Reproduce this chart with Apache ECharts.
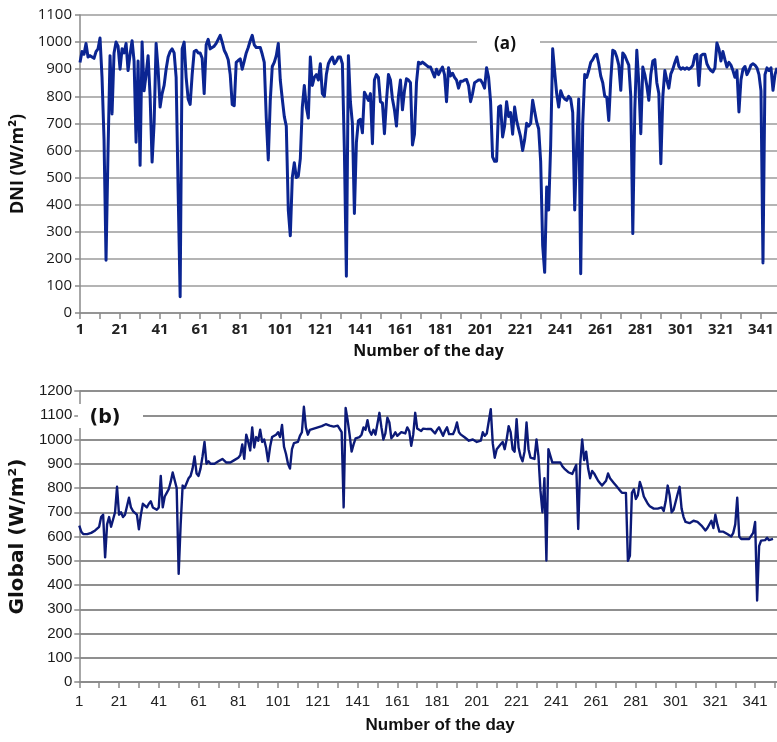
<!DOCTYPE html>
<html>
<head>
<meta charset="utf-8">
<script src="https://cdn.jsdelivr.net/npm/echarts@6/dist/echarts.min.js"></script>
<style>
  html, body { margin: 0; padding: 0; background: #fff; }
  #chart { width: 777px; height: 742px; }
</style>
</head>
<body>
<div id="chart"></div>
<script>
// (a) daily DNI, W/m2, day 1 .. 349
const dniValues = [
  925, 965, 955, 995, 945, 950, 945, 940, 965, 975,
  1015, 870, 640, 195, 600, 950, 735, 960, 1000, 985,
  900, 975, 960, 995, 895, 955, 1005, 930, 630, 930,
  545, 1000, 820, 880, 950, 800, 557, 700, 995, 900,
  760, 810, 840, 900, 945, 965, 975, 960, 870, 450,
  60, 975, 1000, 870, 790, 770, 880, 965, 970, 960,
  960, 940, 810, 990, 1010, 975, 980, 985, 995, 1010,
  1025, 1000, 970, 955, 935, 880, 770, 765, 925, 932,
  938, 900, 930, 960, 980, 1005, 1025, 990, 980, 980,
  980, 955, 925, 720, 565, 785, 910, 925, 950, 995,
  860, 790, 725, 690, 380, 285, 500, 555, 500, 505,
  570, 760, 840, 760, 720, 945, 840, 870, 880, 860,
  920, 810, 800, 880, 920, 935, 945, 920, 930, 945,
  945, 920, 600, 136, 950, 780, 700, 367, 630, 710,
  715, 665, 815, 800, 785, 810, 625, 860, 880, 870,
  780, 775, 662, 780, 880, 860, 790, 750, 690, 800,
  860, 750, 820, 865, 860, 850, 620, 660, 850, 926,
  920, 926, 920, 914, 908, 908, 890, 871, 900, 880,
  895, 908, 880, 780, 905, 875, 885, 870, 860, 830,
  855, 855, 860, 862, 840, 780, 810, 850, 855, 860,
  860, 848, 830, 905, 870, 780, 576, 560, 560, 760,
  765, 650, 690, 780, 725, 740, 660, 760, 710, 680,
  650, 600, 640, 700, 690, 700, 785, 745, 705, 680,
  560, 250, 150, 465, 380, 620, 975, 890, 810, 760,
  820, 800, 790, 785, 800, 790, 740, 380, 620, 790,
  145, 700, 880, 870, 895, 925, 935, 950, 955, 920,
  875, 850, 800, 797, 711, 860, 970, 965, 945, 915,
  822, 960, 950, 932, 915, 800, 293, 750, 970, 850,
  662, 908, 880, 840, 785, 880, 930, 935, 850, 810,
  551, 800, 895, 860, 830, 883, 900, 925, 945, 910,
  900, 905, 900, 905, 900, 905, 915, 950, 955, 840,
  950, 955, 955, 920, 905, 895, 890, 905, 997, 975,
  930, 965, 935, 908, 925, 915, 895, 870, 895, 742,
  860, 900, 910, 880, 895, 915, 920, 915, 905, 880,
  820, 185, 880, 905, 895, 905, 822, 880, 905
];

// (b) daily global irradiance, W/m2, day 1 .. 350
const globalValues = [
  645, 620, 610, 605, 610, 610, 615, 620, 625, 630,
  640, 680, 690, 514, 650, 680, 640, 640, 700, 805,
  690, 700, 680, 690, 690, 760, 720, 705, 700, 690,
  630, 690, 735, 735, 720, 735, 745, 720, 725, 710,
  720, 850, 720, 765, 780, 795, 825, 864, 860, 800,
  446, 650, 810, 800, 800, 840, 850, 880, 930, 860,
  850, 880, 930, 990, 900, 910, 900, 895, 900, 905,
  910, 910, 920, 915, 905, 905, 905, 910, 915, 910,
  925, 935, 980, 920, 1020, 990, 955, 1050, 967, 1010,
  995, 1040, 990, 1000, 965, 910, 970, 1010, 1010, 1020,
  1030, 1010, 1060, 970, 940, 900, 880, 960, 985, 990,
  990, 1015, 1030, 1135, 1050, 1020, 1040, 1035, 1045, 1050,
  1050, 1055, 1055, 1057, 1063, 1068, 1057, 1060, 1053, 1057,
  1057, 1055, 1030, 720, 1130, 1080, 1020, 950, 980, 1005,
  1005, 1010, 1020, 1050, 1040, 1080, 1035, 1020, 1040, 1020,
  1020, 1110, 1050, 1000, 1025, 1090, 1070, 1005, 1015, 1030,
  1015, 1020, 1030, 1035, 1025, 1050, 1035, 974, 1020, 1110,
  1045, 1040, 1035, 1045, 1043, 1043, 1043, 1043, 1038, 1025,
  1040, 1050, 1045, 1015, 1036, 1050, 1022, 1025, 1022, 1040,
  1070, 1030, 1020, 1015, 1008, 1000, 995, 995, 1000, 995,
  990, 995, 995, 1030, 1015, 1025, 1030, 1125, 985, 925,
  960, 965, 980, 990, 960, 1000, 1055, 1030, 960, 950,
  1084, 967, 930, 910, 950, 1070, 960, 925, 920, 920,
  1000, 930, 790, 700, 840, 501, 960, 955, 905, 905,
  905, 900, 905, 890, 880, 885, 865, 865, 858, 865,
  895, 631, 900, 1000, 915, 950, 880, 840, 870, 860,
  845, 830, 820, 810, 805, 830, 860, 840, 835, 820,
  810, 800, 790, 780, 780, 780, 500, 520, 780, 795,
  755, 770, 825, 800, 765, 750, 735, 725, 720, 715,
  720, 715, 720, 720, 705, 745, 810, 770, 700, 710,
  715, 775, 805, 715, 680, 660, 655, 655, 660, 665,
  665, 660, 655, 645, 635, 625, 635, 640, 665, 635,
  690, 650, 620, 615, 620, 615, 610, 605, 600, 615,
  650, 760, 600, 590, 585, 590, 590, 590, 590, 615,
  660, 336, 560, 583, 580, 585, 595, 585, 580, 590
];

// day numbers on the two category axes
const dniDays = [];
for (let d = 1; d <= 349; d++) dniDays.push(String(d));
const globalDays = [];
for (let d = 1; d <= 352; d++) globalDays.push(String(d));

const gridGrey = '#9b9b9b';
const axisGrey = '#8a8a8a';
const narrow = "'Liberation Sans', Arial, sans-serif";
const plain = v => String(v);

const chart = echarts.init(document.getElementById('chart'));
const option = {
  animation: false,
  backgroundColor: '#fff',
  grid: [
    { left: 80, top: 15, right: 0, height: 298 },
    { left: 65, top: 391, right: 0, height: 291 }
  ],
  xAxis: [
    {
      type: 'category', gridIndex: 0, data: dniDays, boundaryGap: false,
      axisLine: { lineStyle: { color: axisGrey, width: 1.5 } },
      axisTick: { interval: 9, length: 6, lineStyle: { color: axisGrey, width: 1.5 } },
      axisLabel: { interval: 19, margin: 9, fontSize: 15, fontWeight: 'bold',
        fontFamily: 'Open Sans', color: '#222' },
      splitLine: { show: false },
      name: 'Number of the day', nameLocation: 'middle', nameGap: 30,
      nameTextStyle: { fontSize: 16, fontWeight: 'bold', fontFamily: 'Open Sans', color: '#111' }
    },
    {
      type: 'category', gridIndex: 1, data: globalDays, boundaryGap: false,
      axisLine: { lineStyle: { color: axisGrey, width: 1.5 } },
      axisTick: { interval: 9, length: 6, lineStyle: { color: axisGrey, width: 1.5 } },
      axisLabel: { interval: 19, margin: 12, fontSize: 15, fontFamily: narrow, color: '#222' },
      splitLine: { show: false },
      name: 'Number of the day', nameLocation: 'middle', nameGap: 35,
      nameTextStyle: { fontSize: 17, fontWeight: 'bold', fontFamily: narrow, color: '#111',
        padding: [0, 0, 0, 24] }
    }
  ],
  yAxis: [
    {
      type: 'value', gridIndex: 0, min: 0, max: 1100, interval: 100,
      axisLine: { show: true, lineStyle: { color: axisGrey, width: 1.5 } },
      axisTick: { show: true, length: 5, lineStyle: { color: axisGrey, width: 1.5 } },
      axisLabel: { margin: 8, fontSize: 15, fontFamily: 'Open Sans', color: '#1a1a1a', formatter: plain },
      splitLine: { lineStyle: { color: gridGrey, width: 1.5 } },
      name: 'DNI (W/m²)', nameLocation: 'middle', nameGap: 45,
      nameTextStyle: { fontSize: 18, fontWeight: 'bold', fontFamily: 'Open Sans', color: '#111' }
    },
    {
      type: 'value', gridIndex: 1, min: 0, max: 1200, interval: 100,
      axisLine: { show: true, lineStyle: { color: axisGrey, width: 1.5 } },
      axisTick: { show: true, length: 5, lineStyle: { color: axisGrey, width: 1.5 } },
      axisLabel: { margin: 7, fontSize: 15, fontFamily: narrow, color: '#1a1a1a', formatter: plain },
      splitLine: { lineStyle: { color: '#8f8f8f', width: 2 } },
      name: 'Global (W/m²)', nameLocation: 'middle', nameGap: 42,
      nameTextStyle: { fontSize: 20, fontWeight: 'bold', fontFamily: 'DejaVu Sans', color: '#111' }
    }
  ],
  series: [
    {
      name: 'DNI', type: 'line', xAxisIndex: 0, yAxisIndex: 0,
      data: dniValues, symbol: 'none',
      lineStyle: { color: '#0b2592', width: 3, join: 'round' }
    },
    {
      name: 'Global', type: 'line', xAxisIndex: 1, yAxisIndex: 1,
      data: globalValues, symbol: 'none',
      lineStyle: { color: '#0c1a78', width: 2.4, join: 'round' }
    }
  ],
  graphic: [
    // panel tags sit on a white patch that hides the grid line
    { type: 'rect', z: 100, shape: { x: 477, y: 31, width: 63, height: 24 }, style: { fill: '#fff' } },
    { type: 'text', z: 101, x: 505, y: 44,
      style: { text: '(a)', font: "bold 17px 'Open Sans'", fill: '#111', align: 'center', verticalAlign: 'middle' } },
    { type: 'rect', z: 100, shape: { x: 78, y: 404, width: 65, height: 24 }, style: { fill: '#fff' } },
    { type: 'text', z: 101, x: 105, y: 418,
      style: { text: '(b)', font: "bold 19px 'DejaVu Sans'", fill: '#111', align: 'center', verticalAlign: 'middle' } }
  ]
};
chart.setOption(option);
</script>
</body>
</html>
